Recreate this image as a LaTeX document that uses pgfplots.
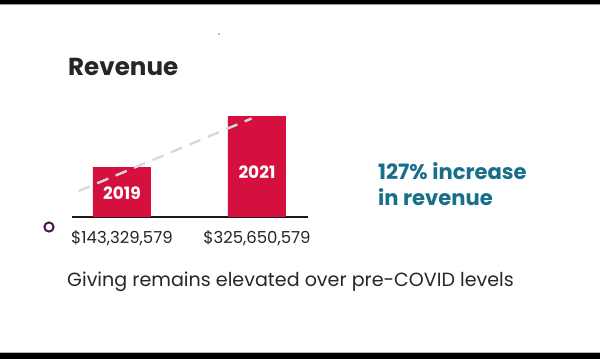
\documentclass[border=0pt]{standalone}
\usepackage{pgfplots}
\pgfplotsset{compat=1.18}
\usepackage{fontspec}
\setmainfont{Poppins}
\definecolor{barred}{HTML}{D50F3E}
\definecolor{teal}{HTML}{186F8A}
\definecolor{txt}{HTML}{262626}
\definecolor{dashgray}{HTML}{D9D9D9}
\definecolor{circ}{HTML}{4B1552}
\begin{document}
\begin{tikzpicture}[x=1bp,y=1bp]
\fill[white] (0,0) rectangle (600,359);
\fill[black] (0,355) rectangle (600,359);
\fill[black!40] (0,354.3) rectangle (600,355);
\fill[black] (0,0) rectangle (600,6);
\fill[black!30] (0,6) rectangle (600,6.7);
\begin{axis}[
  at={(72bp,142bp)}, anchor=south west,
  scale only axis, width=236bp, height=110bp,
  xmin=-0.37, xmax=1.378, ymin=0, ymax=110,
  axis x line*=bottom, axis y line=none,
  x axis line style={line width=2.4bp, black!90, -},
  ytick=\empty,
  xtick={0,1}, xticklabels={{\$143,329,579},{\$325,650,579}},
  major tick length=0pt,
  xticklabel style={anchor=base, yshift=-26bp, text=txt, font=\fontsize{16.5bp}{19bp}\selectfont},
  clip=false,
]
\addplot[ybar, bar width=0.43, fill=barred, draw=none] coordinates {(0,50) (1,101)};
\addplot[line width=2.4bp, dashgray, dash pattern=on 12bp off 8bp] coordinates {(-0.32,26) (0.96,98.5)};
\node[text=white, font=\bfseries\fontsize{17bp}{20bp}\selectfont, anchor=base] at (axis cs:0,18) {2019};
\node[text=white, font=\bfseries\fontsize{17bp}{20bp}\selectfont, anchor=base] at (axis cs:1,39) {2021};
\end{axis}
\node[anchor=base west, inner sep=0pt, text=txt, font=\bfseries\fontsize{24.6bp}{28bp}\selectfont] at (68,284) {Revenue};
\node[anchor=base west, inner sep=0pt, text=teal, font=\bfseries\fontsize{21.1bp}{24bp}\selectfont] at (378,180) {127\% increase};
\node[anchor=base west, inner sep=0pt, text=teal, font=\bfseries\fontsize{21.1bp}{24bp}\selectfont] at (378,154) {in revenue};
\node[anchor=base west, inner sep=0pt, text=txt, font=\fontsize{19.1bp}{22bp}\selectfont] at (67,73) {Giving remains elevated over pre-COVID levels};
\draw[circ, line width=2bp] (49,132) circle (4.6);
\fill[barred!70] (219,325) circle (0.9);
\end{tikzpicture}
\end{document}
